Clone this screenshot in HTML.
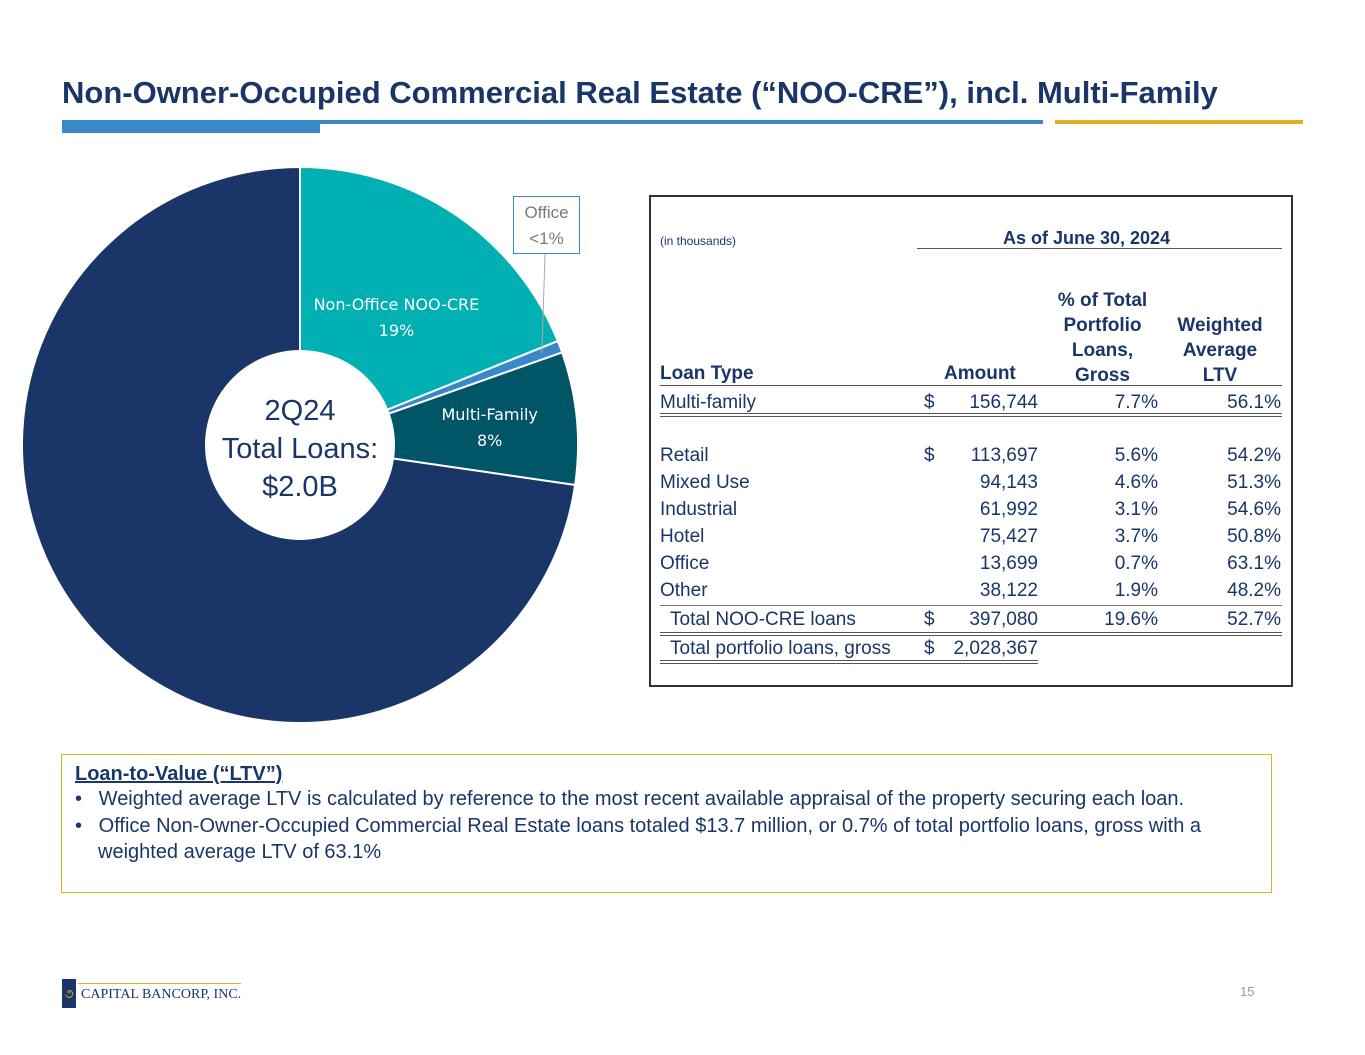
<!DOCTYPE html>
<html><head><meta charset="utf-8"><style>
body{margin:0;width:1365px;height:1055px;background:#fff;position:relative;overflow:hidden;font-family:"Liberation Sans",Arial,sans-serif;color:#1a3668}
.a{position:absolute;white-space:nowrap}
.t{font-size:19px;color:#1a3668}
</style></head><body>
<div class="a" style="left:62px;top:75px;font-size:31px;font-weight:bold;color:#1a3668">Non-Owner-Occupied Commercial Real Estate (“NOO-CRE”), incl. Multi-Family</div>
<div class="a" style="left:62px;top:120px;width:981px;height:4px;background:#3a87c9"></div>
<div class="a" style="left:62px;top:120px;width:258px;height:13px;background:#3a87c9"></div>
<div class="a" style="left:1055px;top:120px;width:248px;height:4px;background:#e0b020"></div>

<svg id="pie" width="620" height="600" style="position:absolute;left:0;top:150px"></svg>

<div class="a" style="left:513px;top:196px;width:67px;height:58px;border:1px solid #3a87c9;background:#fff;text-align:center;font-size:17px;line-height:26px;color:#7a7a7a;padding-top:3px;box-sizing:border-box">Office<br>&lt;1%</div>

<div class="a" style="left:649px;top:195px;width:640px;height:488px;border:2px solid #333"></div>
<div id="tbl"></div>

<div class="a" style="left:61px;top:754px;width:1209px;height:137px;border:1px solid #e0b020"></div>
<div class="a" style="left:75px;top:763px;font-size:20px;font-weight:bold;text-decoration:underline">Loan-to-Value (“LTV”)</div>
<div class="a" style="left:75px;top:788px;font-size:20px">•&nbsp;&nbsp;&nbsp;Weighted average LTV is calculated by reference to the most recent available appraisal of the property securing each loan.</div>
<div class="a" style="left:75px;top:813px;font-size:20px;line-height:26px">•&nbsp;&nbsp;&nbsp;Office Non-Owner-Occupied Commercial Real Estate loans totaled $13.7 million, or 0.7% of total portfolio loans, gross with a<br><span style="padding-left:23px">weighted average LTV of 63.1%</span></div>

<div class="a" style="left:62px;top:979px;width:14px;height:29px;background:#1a3668;color:#e0b020;font-size:13px;line-height:29px;text-align:center">૭</div>
<div class="a" style="left:78px;top:983px;width:163px;height:1px;background:#e0b020"></div>
<div class="a" style="left:81px;top:987px;font-family:'Liberation Serif',serif;font-size:14px;color:#1a3668">CAPITAL BANCORP, INC.</div>
<div class="a" style="left:1240px;top:984px;font-size:13px;color:#999">15</div>

<script>
const sliceNames=['Non-Office NOO-CRE','Office','Multi-Family','Other Loans'];
const sliceValues=[18.9,0.7,7.7,72.7];
const sliceLabels=['19%','<1%','8%',''];
const sliceColors=['#00b0b2','#3a87c9','#005566','#1a3668'];
const svg=document.getElementById('pie');
const NS='http://www.w3.org/2000/svg';
const cx=300,cy=295,R=278,r=95;
const total=sliceValues.reduce((a,b)=>a+b,0);
function pt(frac,rad){const a=frac*2*Math.PI;return [cx+rad*Math.sin(a),cy-rad*Math.cos(a)];}
let acc=0;
sliceValues.forEach((v,i)=>{
  const f0=acc/total,f1=(acc+v)/total;acc+=v;
  const p0=pt(f0,R),p1=pt(f1,R);
  const large=(f1-f0)>0.5?1:0;
  const p=document.createElementNS(NS,'path');
  p.setAttribute('d',`M${cx},${cy}L${p0[0]},${p0[1]}A${R},${R} 0 ${large} 1 ${p1[0]},${p1[1]}Z`);
  p.setAttribute('fill',sliceColors[i]);p.setAttribute('stroke','#fff');p.setAttribute('stroke-width','2');
  
  
  svg.appendChild(p);
  if(i===0||i===2){
    const m=pt((f0+f1)/2,i===0?R*0.62:R*0.7);
    const x=m[0]+(i===2?-4:0);
    const t=document.createElementNS(NS,'text');
    t.setAttribute('x',x);t.setAttribute('y',m[1]+(i===0?8:-6));t.setAttribute('text-anchor','middle');
    t.setAttribute('fill','#fff');t.setAttribute('font-size','16');t.setAttribute('font-family','"DejaVu Sans",sans-serif');
    
    
    t.innerHTML=`<tspan x="${x}">${sliceNames[i]}</tspan><tspan x="${x}" dy="26">${sliceLabels[i]}</tspan>`;
    svg.appendChild(t);
  }
  if(i===1){
    const m=pt((f0+f1)/2,R*0.93);
    const l=document.createElementNS(NS,'line');
    l.setAttribute('x1',m[0]);l.setAttribute('y1',m[1]);l.setAttribute('x2',545);l.setAttribute('y2',104);
    l.setAttribute('stroke','#aaa');l.setAttribute('stroke-width','1');
    
    
    svg.appendChild(l);
  }
});
const hole=document.createElementNS(NS,'circle');
hole.setAttribute('cx',cx);hole.setAttribute('cy',cy);hole.setAttribute('r',r);hole.setAttribute('fill','#fff');


svg.appendChild(hole);
['2Q24','Total Loans:','$2.0B'].forEach((s,k)=>{
  const t=document.createElementNS(NS,'text');
  t.setAttribute('x',cx);t.setAttribute('y',cy-25+k*38);t.setAttribute('text-anchor','middle');
  t.setAttribute('fill','#1a3668');t.setAttribute('font-size','29');t.setAttribute('font-family','"Liberation Sans",sans-serif');
  
  
  t.textContent=s;svg.appendChild(t);
});

const rowTypes=['Multi-family','Retail','Mixed Use','Industrial','Hotel','Office','Other','Total NOO-CRE loans','Total portfolio loans, gross'];
const rowAmounts=['156,744','113,697','94,143','61,992','75,427','13,699','38,122','397,080','2,028,367'];
const rowPcts=['7.7%','5.6%','4.6%','3.1%','3.7%','0.7%','1.9%','19.6%',''];
const rowLtv=['56.1%','54.2%','51.3%','54.6%','50.8%','63.1%','48.2%','52.7%',''];
const rowDollar=[true,true,false,false,false,false,false,true,true];
const rowY=[403,456,483,510,537,564,591,620,649];
const tb=document.getElementById('tbl');
function add(html,style,name){const d=document.createElement('div');d.className='a t';d.style.cssText=style;d.innerHTML=html;
  
  
  tb.appendChild(d);}
add('(in thousands)','left:660px;top:234px;font-size:12px','units-note');
add('As of June 30, 2024','left:1003px;top:228px;font-weight:bold;font-size:18px','date-header');
add('','left:917px;top:248px;width:365px;height:1px;background:#555','date-rule');
add('Loan Type','left:660px;top:363px;font-weight:bold;font-size:19px','col-loan-type');
add('Amount','left:944px;top:363px;font-weight:bold;font-size:19px','col-amount');
add('% of Total<br>Portfolio<br>Loans,<br>Gross','left:1040px;width:125px;top:288px;font-weight:bold;text-align:center;line-height:25px','col-pct');
add('Weighted<br>Average<br>LTV','left:1160px;width:120px;top:313px;font-weight:bold;text-align:center;line-height:25px','col-ltv');
add('','left:660px;top:385px;width:622px;height:1px;background:#555','header-rule');
rowTypes.forEach((n,i)=>{
  const y=rowY[i]-11, ind=i>=7?10:0;
  const key=n.toLowerCase().replace(/[^a-z]+/g,'-');
  add(n,`left:${660+ind}px;top:${y}px`,'row-'+key+'-type');
  if(rowDollar[i]) add('$',`left:924px;top:${y}px`,'row-'+key+'-dollar');
  add(rowAmounts[i],`right:${1365-1038}px;top:${y}px`,'row-'+key+'-amount');
  if(rowPcts[i]) add(rowPcts[i],`right:${1365-1158}px;top:${y}px`,'row-'+key+'-pct');
  if(rowLtv[i]) add(rowLtv[i],`right:${1365-1281}px;top:${y}px`,'row-'+key+'-ltv');
});
add('','left:660px;top:413px;width:622px;height:2px;border-top:1px solid #555;border-bottom:1px solid #555','multifamily-double-rule');
add('','left:660px;top:605px;width:622px;height:1px;background:#777','other-rule');
add('','left:660px;top:632px;width:622px;height:2px;border-top:1px solid #555;border-bottom:1px solid #555','total-noo-double-rule');
add('','left:660px;top:660px;width:378px;height:2px;border-top:1px solid #555;border-bottom:1px solid #555','total-portfolio-double-rule');
</script>
</body></html>
